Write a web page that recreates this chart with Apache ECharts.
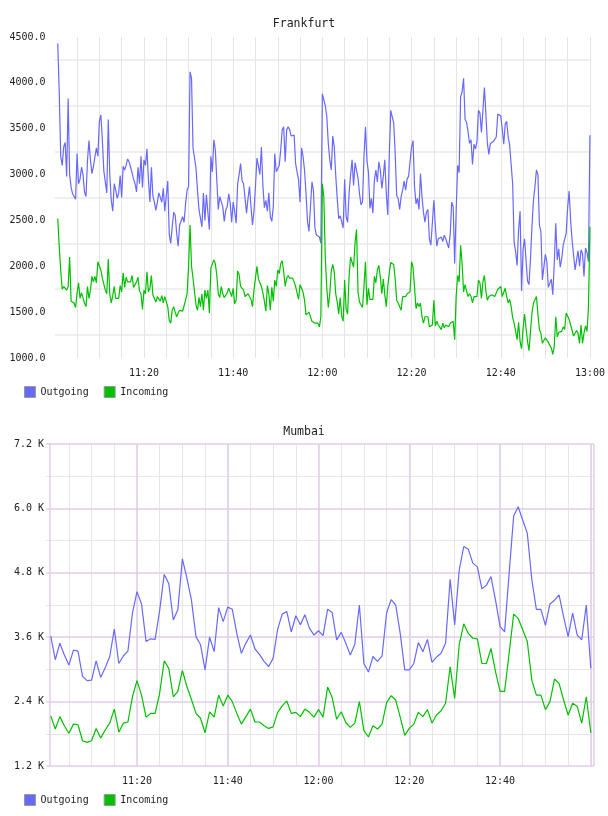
<!DOCTYPE html>
<html>
<head>
<meta charset="utf-8">
<script src="https://cdn.jsdelivr.net/npm/echarts@6/dist/echarts.min.js"></script>
<style>
html,body{margin:0;padding:0;background:#fff;}
#chart{width:608px;height:816px;}
</style>
</head>
<body>
<div id="chart"></div>
<script>
// ---------- data ----------
const seriesNames = ['Outgoing', 'Incoming'];
const xTickLabels = ['11:20', '11:40', '12:00', '12:20', '12:40', '13:00'];
const mumbaiXTickLabels = ['11:20', '11:40', '12:00', '12:20', '12:40'];

// Frankfurt: samples every 20 s starting 11:00:40
const frankfurtStart = '11:00:40';
const frankfurtStepSec = 20;
const frankfurtOutgoing = [
4430,3900,3200,3100,3300,3350,2980,3830,3000,2860,
2790,2780,2730,3230,2900,2950,3080,3000,2810,2760,
3150,3370,3160,3010,3090,3190,3290,3200,3580,3650,
3380,3040,3020,2800,3600,3000,2720,2600,2900,2830,
2740,2800,2990,2750,3090,3050,3100,3170,3140,3130,
3020,2950,2900,2810,3080,2900,3200,2860,3160,3100,
3280,2950,2700,3080,2770,2700,2610,2700,2800,2780,
2700,2850,2600,2580,2930,2350,2250,2430,2590,2560,
2360,2220,2450,2430,2540,2480,2680,2830,2870,
4120,4050,3290,3300,3070,2830,2620,2600,2430,2800,
2500,2780,2800,2400,3200,3030,3380,3270,2940,2620,
2760,2780,2650,2490,2610,2650,2790,2690,2480,2700,
2600,2470,2900,3000,3120,2930,2900,2740,2580,2740,
2870,2650,2450,2600,2870,3180,3090,3000,3300,2880,
2640,2720,2600,2800,2540,2490,2650,3230,3030,3030,
3100,3270,3490,3520,3140,3490,3520,3490,3420,3410,
3430,3120,3140,2940,2700,3290,3200,3050,2800,2490,
2380,2650,2920,2830,2420,2340,2360,2320,2250,3880,
3880,3750,3630,3340,3160,3050,3420,3300,2990,2740,
2520,2550,2560,2420,2950,2540,2480,2800,3000,3160,
2880,3130,3120,2960,2790,2670,2700,3200,3520,3150,
3030,2630,2740,2580,2940,3050,2920,3140,3050,2850,
2980,3160,2800,2560,3200,3700,3720,3560,3230,2770,
2740,2620,2760,2830,2930,2830,2950,2980,2980,3300,
3370,2870,2680,2740,2620,3010,2760,2590,2480,2590,
2620,2300,2230,2210,2720,2440,2220,2300,2300,2320,
2270,2340,2300,2310,2200,2350,2700,2650,2030,
2600,3100,3020,3850,3900,4050,3600,3570,3470,3340,
3380,3110,3330,3280,3360,3700,3670,3460,3700,3950,
3660,3340,3220,3340,3360,3360,3340,3410,3660,3670,
3640,3500,3330,3550,3580,3410,3320,3320,2900,2260,
2160,2010,2400,2600,1730,2180,2300,2300,1840,1800,
2080,2440,2720,2870,3050,3000,2450,2380,1850,1870,
2130,2050,1770,1760,1860,1690,2030,2470,2070,2190,
1990,2080,2230,2230,2360,2640,2820,2500,2280,2120,
1960,1960,2170,2000,2180,2140,1890,2200,2150,2050,
3430
];
const frankfurtIncoming = [
2520,2220,1960,1750,1780,1800,1740,1780,2100,1620,
1610,1600,1550,1710,1820,1650,1710,1690,1600,1560,
1780,1650,1740,1890,1830,1890,1820,2050,2050,1960,
1870,1850,1740,1700,2080,1700,1600,1680,1780,1650,
1640,1650,1790,1720,1930,1770,1880,1830,1850,1830,
1900,1770,1760,1830,1880,1730,1700,1530,1740,1700,
1940,1720,1760,1900,1690,1670,1610,1670,1690,1620,
1680,1600,1670,1690,1560,1410,1380,1520,1560,1500,
1450,1490,1520,1510,1510,1530,1630,1700,2000,
2450,2000,1870,1860,1580,1520,1660,1560,1700,1520,
1740,1650,1740,1490,1980,1995,2070,2030,1900,1700,
1660,1780,1700,1660,1640,1710,1760,1740,1670,1760,
1590,1630,1950,1910,1780,1800,1740,1670,1660,1700,
1670,1640,1560,1740,1870,2000,1860,1880,1780,1710,
1620,1510,1790,1700,1520,1770,1620,1850,1780,1960,
1920,2030,2060,1940,1780,1870,1900,1870,1890,1870,
1830,1780,1800,1640,1800,1760,1720,1630,1470,1450,
1500,1500,1400,1410,1380,1400,1380,1340,1450,2900,
2750,2080,1760,1550,1700,1950,2020,1940,1700,1610,
1480,1660,1460,1400,1850,1530,1480,1900,2100,2120,
1990,2260,2400,1720,1610,1590,1550,1780,2050,1580,
1760,1640,1660,1640,1890,1820,1960,2010,1880,1700,
1860,1690,1560,1780,1930,2040,2060,2020,1860,1630,
1600,1600,1520,1670,1670,1670,1700,1720,1720,2050,
1990,1770,1540,1600,1560,1600,1450,1380,1450,1450,
1450,1340,1340,1360,1630,1350,1400,1360,1380,1310,
1380,1330,1360,1380,1340,1380,1380,1400,1200,
1670,1900,1830,2230,2030,1720,1800,1730,1670,1700,
1670,1600,1670,1650,1670,1850,1820,1650,1830,1900,
1730,1630,1670,1650,1690,1710,1670,1710,1750,1770,
1780,1670,1650,1760,1670,1600,1640,1560,1440,1380,
1290,1200,1390,1180,1100,1320,1480,1330,1180,1080,
1290,1490,1600,1620,1670,1480,1310,1270,1160,1180,
1220,1240,1170,1150,1110,1040,1130,1450,1230,1280,
1300,1290,1340,1310,1490,1500,1420,1360,1380,1240,
1240,1300,1270,1160,1360,1160,1270,1350,1290,1550,
2430
];

// Mumbai: samples every minute starting 11:01
const mumbaiStart = '11:01:00';
const mumbaiStepSec = 60;
const mumbaiOutgoing = [
3620,3180,3490,3270,3080,3360,3340,2870,2790,2800,
3160,2850,3030,3240,3750,3110,3250,3340,4050,4450,
4220,3520,3570,3560,4100,4770,4600,3920,4110,5060,
4700,4290,3610,3460,2990,3600,3330,4150,3890,4160,
4120,3670,3300,3490,3640,3380,3280,3150,3050,3210,
3750,4030,4080,3700,4000,3830,4020,3770,3640,3720,
3630,4120,4060,3550,3690,3490,3270,3470,4200,3110,
2950,3240,3150,3250,4050,4300,4200,3670,2990,2990,
3110,3500,3330,3560,3130,3230,3300,3490,4680,3830,
4850,5290,5240,4980,4910,4500,4570,4730,4290,3800,
3700,4790,5860,6030,5780,5540,4670,4120,4120,3820,
4220,4290,4390,3980,3610,4050,3640,3550,4200,3020
];
const mumbaiIncoming = [
2130,1890,2120,1950,1810,1980,1970,1670,1640,1670,
1900,1720,1870,2000,2260,1830,2000,2020,2490,2790,
2520,2110,2180,2180,2560,3160,3020,2490,2590,2980,
2680,2440,2180,2090,1820,2210,2110,2520,2320,2520,
2400,2180,1980,2120,2260,2020,2020,1950,1900,1930,
2200,2320,2410,2180,2200,2120,2260,2200,2110,2250,
2110,2670,2480,2070,2210,2010,1920,2000,2400,1860,
1740,1950,1890,1980,2380,2510,2430,2110,1770,1900,
1980,2200,2120,2250,2000,2150,2230,2370,3050,2460,
3460,3850,3670,3580,3570,3110,3110,3390,2960,2590,
2590,3300,4030,3950,3740,3520,2800,2520,2520,2250,
2400,2820,2740,2430,2150,2370,2310,2000,2490,1820
];

// ---------- helpers ----------
function ts(hms) {
  const p = hms.split(':').map(Number);
  return Date.UTC(2024, 0, 1, p[0], p[1], p[2] || 0);
}
function pairs(start, stepSec, vals) {
  const t0 = ts(start);
  return vals.map((v, i) => [t0 + i * stepSec * 1000, v]);
}
function hhmm(v) {
  const d = new Date(v);
  const h = String(d.getUTCHours()).padStart(2, '0');
  const m = String(d.getUTCMinutes()).padStart(2, '0');
  return { text: h + ':' + m, sec: d.getUTCSeconds() };
}
function timeLabel(list) {
  return function (v) {
    const r = hhmm(v);
    return (r.sec === 0 && list.indexOf(r.text) >= 0) ? r.text : '';
  };
}

const BLUE = '#6868ff';
const GREEN = '#00c000';
const LAV = '#e2cde6';
const GRAY = '#e6e6e6';
const FONT = 'DejaVu Sans Mono';
const FIVE_MIN = 5 * 60 * 1000;
const TWENTY_MIN = 20 * 60 * 1000;
const AXIS_START = ts('11:00:00');   // multiple of both intervals

// pixel scale of each panel (px per minute), used to place the grids
const fPxMin = 4.4708, mPxMin = 4.5375;

const chart = echarts.init(document.getElementById('chart'), null, { renderer: 'canvas' });
const labelStyle = { fontFamily: FONT, fontSize: 10, color: '#222' };

const fMax = ts('13:00:10');
const mMax = ts('13:00:42');
const fLeft = 57 - 0.5 * fPxMin;
const mLeft = 50 - (50 / 60) * mPxMin;

const option = {
  animation: false,
  backgroundColor: '#fff',
  color: [BLUE, GREEN],
  title: [
    { text: 'Frankfurt', left: 'center', top: 13,
      textStyle: { fontFamily: FONT, fontSize: 11.5, fontWeight: 'normal', color: '#222' } },
    { text: 'Mumbai', left: 'center', top: 421,
      textStyle: { fontFamily: FONT, fontSize: 11.5, fontWeight: 'normal', color: '#222' } }
  ],
  legend: [
    { left: 24, top: 386, padding: 0, itemWidth: 11, itemHeight: 11, itemGap: 15, icon: 'rect',
      itemStyle: { borderColor: '#999', borderWidth: 1 },
      textStyle: labelStyle, data: seriesNames },
    { left: 24, top: 794, padding: 0, itemWidth: 11, itemHeight: 11, itemGap: 15, icon: 'rect',
      itemStyle: { borderColor: '#999', borderWidth: 1 },
      textStyle: labelStyle, data: seriesNames }
  ],
  grid: [
    { left: fLeft, top: 37, width: 592 - fLeft, height: 321, show: false },
    { left: mLeft, top: 444, width: 594 - mLeft, height: 322, show: false }
  ],
  xAxis: [
    { type: 'value', gridIndex: 0, min: AXIS_START, max: fMax, interval: FIVE_MIN,
      axisLine: { show: false }, axisTick: { show: false },
      axisLabel: Object.assign({ margin: 10, formatter: timeLabel(xTickLabels),
        showMinLabel: false, showMaxLabel: false, hideOverlap: false }, labelStyle),
      splitLine: { show: true, showMinLine: false, showMaxLine: false,
        lineStyle: { color: '#e4e4e4', width: 1 } } },
    { type: 'value', gridIndex: 1, min: AXIS_START, max: mMax, interval: TWENTY_MIN, z: 3,
      axisLine: { show: false }, axisTick: { show: false },
      axisLabel: Object.assign({ margin: 10, formatter: timeLabel(mumbaiXTickLabels),
        showMinLabel: false, showMaxLabel: false, hideOverlap: false }, labelStyle),
      splitLine: { show: true, showMinLine: false, showMaxLine: true,
        lineStyle: { color: LAV, width: 1.5 } } },
    { type: 'value', gridIndex: 1, position: 'top', min: AXIS_START, max: mMax, interval: FIVE_MIN, z: 0,
      axisLine: { show: false }, axisTick: { show: false }, axisLabel: { show: false },
      splitLine: { show: true, showMinLine: false, showMaxLine: false,
        lineStyle: { color: GRAY, width: 1 } } }
  ],
  yAxis: [
    { type: 'value', gridIndex: 0, min: 1000, max: 4500, interval: 500,
      axisLine: { show: false }, axisTick: { show: false },
      axisLabel: Object.assign({ margin: 57 - fLeft + 7, formatter: v => v.toFixed(1) }, labelStyle),
      splitLine: { show: false },
      minorTick: { show: false, splitNumber: 2 },
      minorSplitLine: { show: true, lineStyle: { color: '#efefef', width: 2 } } },
    { type: 'value', gridIndex: 1, min: 1200, max: 7200, interval: 1200, z: 3,
      offset: -(50 - mLeft),
      axisLine: { show: true, lineStyle: { color: LAV, width: 1.5 } }, axisTick: { show: false },
      axisLabel: Object.assign({ margin: 6, formatter: v => (v / 1000).toFixed(1) + ' K' }, labelStyle),
      splitLine: { show: true, lineStyle: { color: LAV, width: 1.5 } },
      minorTick: { show: false, splitNumber: 2 },
      minorSplitLine: { show: true, lineStyle: { color: GRAY, width: 1 } } }
  ],
  series: [
    { name: 'Outgoing', type: 'line', xAxisIndex: 0, yAxisIndex: 0, showSymbol: false, symbol: 'none',
      lineStyle: { width: 1.2, color: BLUE }, itemStyle: { color: BLUE }, z: 5,
      data: pairs(frankfurtStart, frankfurtStepSec, frankfurtOutgoing) },
    { name: 'Incoming', type: 'line', xAxisIndex: 0, yAxisIndex: 0, showSymbol: false, symbol: 'none',
      lineStyle: { width: 1.2, color: GREEN }, itemStyle: { color: GREEN }, z: 5,
      data: pairs(frankfurtStart, frankfurtStepSec, frankfurtIncoming) },
    { name: 'Outgoing', type: 'line', xAxisIndex: 1, yAxisIndex: 1, showSymbol: false, symbol: 'none',
      lineStyle: { width: 1.2, color: BLUE }, itemStyle: { color: BLUE }, z: 5,
      data: pairs(mumbaiStart, mumbaiStepSec, mumbaiOutgoing) },
    { name: 'Incoming', type: 'line', xAxisIndex: 1, yAxisIndex: 1, showSymbol: false, symbol: 'none',
      lineStyle: { width: 1.2, color: GREEN }, itemStyle: { color: GREEN }, z: 5,
      data: pairs(mumbaiStart, mumbaiStepSec, mumbaiIncoming) }
  ]
};
chart.setOption(option);
</script>
</body>
</html>
